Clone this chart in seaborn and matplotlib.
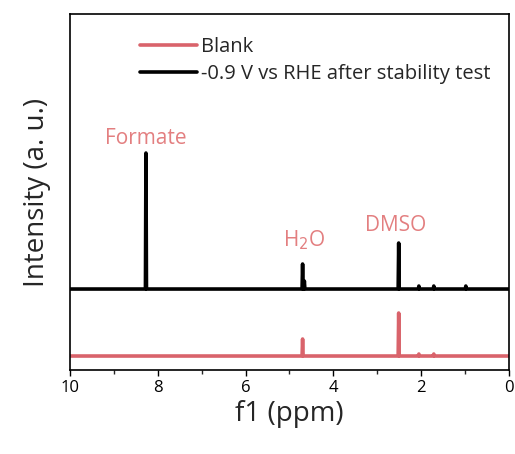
"""1H NMR spectra: blank vs. electrolyte after the stability test."""
import numpy as np
import pandas as pd
import matplotlib
matplotlib.use("Agg")
import matplotlib.pyplot as plt
import seaborn as sns

# peak positions (ppm) and heights (arbitrary units)
test_peaks = [8.27, 4.70, 4.66, 2.51, 2.05, 1.71, 0.98]
test_heights = [136, 25, 8, 46, 3, 3, 3]
blank_peaks = [4.70, 2.51, 2.05, 1.71]
blank_heights = [17, 43, 2, 2]
test_offset = 67

labels = ["Blank", "-0.9 V vs RHE after stability test"]
colors = ["#d9636b", "#000000"]

annotations = ["Formate", "H$_2$O", "DMSO"]
annot_x = [8.27, 4.67, 2.57]
annot_y = [218, 116, 131]
annot_color = "#e37f80"


def stick_spectrum(peaks, heights, offset, name):
    """Turn a peak list into a line trace running from 10 to 0 ppm."""
    xs, ys = [10.0], [offset]
    for p, h in sorted(zip(peaks, heights), reverse=True):
        xs += [p + 0.012, p, p - 0.012]
        ys += [offset, offset + h, offset]
    xs.append(0.0)
    ys.append(offset)
    return pd.DataFrame({"ppm": xs, "intensity": ys, "sample": name})


sns.set_theme(style="white")
plt.rcParams["font.family"] = ["Open Sans", "DejaVu Sans"]

df = pd.concat([
    stick_spectrum(blank_peaks, blank_heights, 0, labels[0]),
    stick_spectrum(test_peaks, test_heights, test_offset, labels[1]),
])

fig = plt.figure(figsize=(5.15, 4.54), dpi=100)
ax = fig.add_axes([0.136, 0.185, 0.852, 0.784])

sns.lineplot(data=df, x="ppm", y="intensity", hue="sample",
             palette=dict(zip(labels, colors)), sort=False, estimator=None,
             linewidth=2.6, ax=ax)

for txt, x, y in zip(annotations, annot_x, annot_y):
    ax.text(x, y, txt, color=annot_color, fontsize=15, ha="center", va="center")

ax.set_xlim(10, 0)
ax.set_ylim(-14, 342)
ax.set_xticks([10, 8, 6, 4, 2, 0])
ax.set_xticks([9, 7, 5, 3, 1], minor=True)
ax.set_yticks([])
ax.tick_params(axis="x", which="major", direction="out", length=4, width=1,
               labelsize=12, pad=3, bottom=True, colors="black")
ax.tick_params(axis="x", which="minor", direction="out", length=3, width=1,
               bottom=True)
ax.set_xlabel("f1 (ppm)", fontsize=20, labelpad=3)
ax.set_ylabel("Intensity (a. u.)", fontsize=20, labelpad=14)
for s in ax.spines.values():
    s.set_color("black")
    s.set_linewidth(1.2)

ax.legend(loc="upper left", bbox_to_anchor=(0.16, 0.935), frameon=False,
          fontsize=14.5, handlelength=2.8, handletextpad=0.2,
          labelspacing=0.32, borderpad=0, borderaxespad=0)

fig.savefig("out.png", dpi=100)
